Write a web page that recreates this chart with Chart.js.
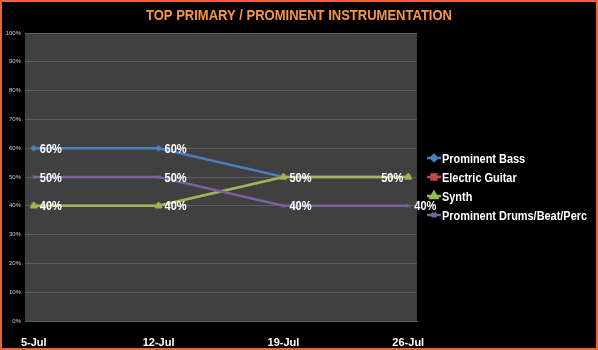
<!DOCTYPE html>
<html>
<head>
<meta charset="utf-8">
<script src="https://cdn.jsdelivr.net/npm/chart.js@4.4.1/dist/chart.umd.min.js"></script>
<style>
  html, body { margin: 0; padding: 0; background: #000; }
  #wrap { width: 598px; height: 350px; }
</style>
</head>
<body>
<div id="wrap"><canvas id="grafico" width="598" height="350"></canvas></div>
<script>
const datas = ["5-Jul", "12-Jul", "19-Jul", "26-Jul"];
const baixo = [60, 60, 50, 50];
const guitarra = [40, 40, 50, 50];
const synth = [40, 40, 50, 50];
const bateria = [50, 50, 40, 40];
const ticksY = [0, 10, 20, 30, 40, 50, 60, 70, 80, 90, 100];

const FONTE = "'Liberation Sans', Arial, sans-serif";

function serie(label, valores, cor, estilo, raio, ordem) {
  return {
    label,
    data: valores.map((v, i) => ({ x: i, y: v })),
    borderColor: cor,
    backgroundColor: cor,
    borderWidth: 2.5,
    pointStyle: estilo,
    pointRadius: raio,
    pointBorderWidth: 1,
    pointBorderColor: cor,
    order: ordem,
    tension: 0
  };
}

// texto comprimido na horizontal (aproxima a Calibri)
function texto(ctx, str, x, y, alinhar, escala) {
  const w = ctx.measureText(str).width * escala;
  let x0 = x;
  if (alinhar === "center") x0 = x - w / 2;
  if (alinhar === "right") x0 = x - w;
  ctx.save();
  ctx.textAlign = "left";
  ctx.translate(x0, y);
  ctx.scale(escala, 1);
  ctx.fillText(str, 0, 0);
  ctx.restore();
}

const fundoPlugin = {
  id: "fundo",
  beforeDraw(chart) {
    const { ctx, chartArea: a } = chart;
    ctx.save();
    ctx.fillStyle = "#000";
    ctx.fillRect(0, 0, chart.width, chart.height);
    ctx.fillStyle = "#404040";
    ctx.fillRect(a.left, a.top, a.right - a.left, a.bottom - a.top);
    ctx.restore();
  },
  afterDraw(chart) {
    const { ctx } = chart;
    ctx.save();
    ctx.textBaseline = "middle";

    // titulo
    ctx.fillStyle = "#F79646";
    ctx.font = "bold 15px " + FONTE;
    const titulo = "TOP PRIMARY / PROMINENT INSTRUMENTATION";
    texto(ctx, titulo, 299, 16, "center", 306 / ctx.measureText(titulo).width);

    // rotulos de dados
    const xs = chart.scales.x;
    const ys = chart.scales.y;
    ctx.font = "bold 13px " + FONTE;
    ctx.fillStyle = "#fff";
    datas.forEach((_, i) => {
      const vistos = new Set();
      [3, 2, 0].forEach(d => {
        const v = chart.data.datasets[d].data[i].y;
        if (vistos.has(v)) return;
        vistos.add(v);
        const px = xs.getPixelForValue(i);
        const py = ys.getPixelForValue(v);
        const esquerda = d === 2 && i === datas.length - 1;
        texto(ctx, v + "%", esquerda ? px - 5 : px + 6, py + 1, esquerda ? "right" : "left", 0.85);
      });
    });

    // legenda
    ctx.font = "bold 13px " + FONTE;
    chart.data.datasets.forEach((ds, k) => {
      const y = 158 + k * 19;
      ctx.strokeStyle = ds.borderColor;
      ctx.fillStyle = ds.borderColor;
      ctx.lineWidth = 2.5;
      ctx.beginPath();
      ctx.moveTo(427, y);
      ctx.lineTo(441, y);
      ctx.stroke();
      Chart.helpers.drawPoint(ctx, {
        pointStyle: ds.pointStyle,
        radius: ds.pointRadius,
        borderWidth: 1
      }, 434, y);
      ctx.fillStyle = "#fff";
      texto(ctx, ds.label, 442, y + 1, "left", 0.84);
    });

    // moldura
    ctx.strokeStyle = "#F0642D";
    ctx.lineWidth = 2;
    ctx.strokeRect(1, 1, chart.width - 2, chart.height - 2);
    ctx.restore();
  }
};

const ctx = document.getElementById("grafico");
Chart.defaults.font.family = FONTE;

new Chart(ctx, {
  type: "line",
  data: {
    datasets: [
      serie("Prominent Bass", baixo, "#4A7EBB", "rectRot", 3, 3),
      serie("Electric Guitar", guitarra, "#BE4B48", "rect", 3.5, 2),
      serie("Synth", synth, "#98B954", "triangle", 4, 1),
      serie("Prominent Drums/Beat/Perc", bateria, "#7D60A0", "crossRot", 3, 0)
    ]
  },
  options: {
    responsive: false,
    animation: false,
    layout: { padding: { left: 0, right: 181, top: 33, bottom: 0 } },
    plugins: {
      legend: { display: false },
      tooltip: { enabled: false }
    },
    scales: {
      x: {
        type: "linear",
        min: -0.07,
        max: 3.07,
        afterBuildTicks: s => { s.ticks = datas.map((_, i) => ({ value: i })); },
        afterFit: s => { s.height = 29; },
        grid: { display: false },
        border: { color: "#5a5a5a", width: 1 },
        ticks: {
          color: "#fff",
          font: { size: 11, weight: "bold" },
          padding: 7,
          maxRotation: 0,
          callback: v => datas[v]
        }
      },
      y: {
        min: 0,
        max: 100,
        afterBuildTicks: s => { s.ticks = ticksY.map(v => ({ value: v })); },
        afterFit: s => { s.width = 25; },
        grid: { color: "#5e5e5e", lineWidth: 1, drawTicks: false },
        border: { display: false },
        ticks: {
          color: "#cfcfcf",
          font: { size: 6 },
          padding: 4,
          callback: v => v + "%"
        }
      }
    }
  },
  plugins: [fundoPlugin]
});
</script>
</body>
</html>
